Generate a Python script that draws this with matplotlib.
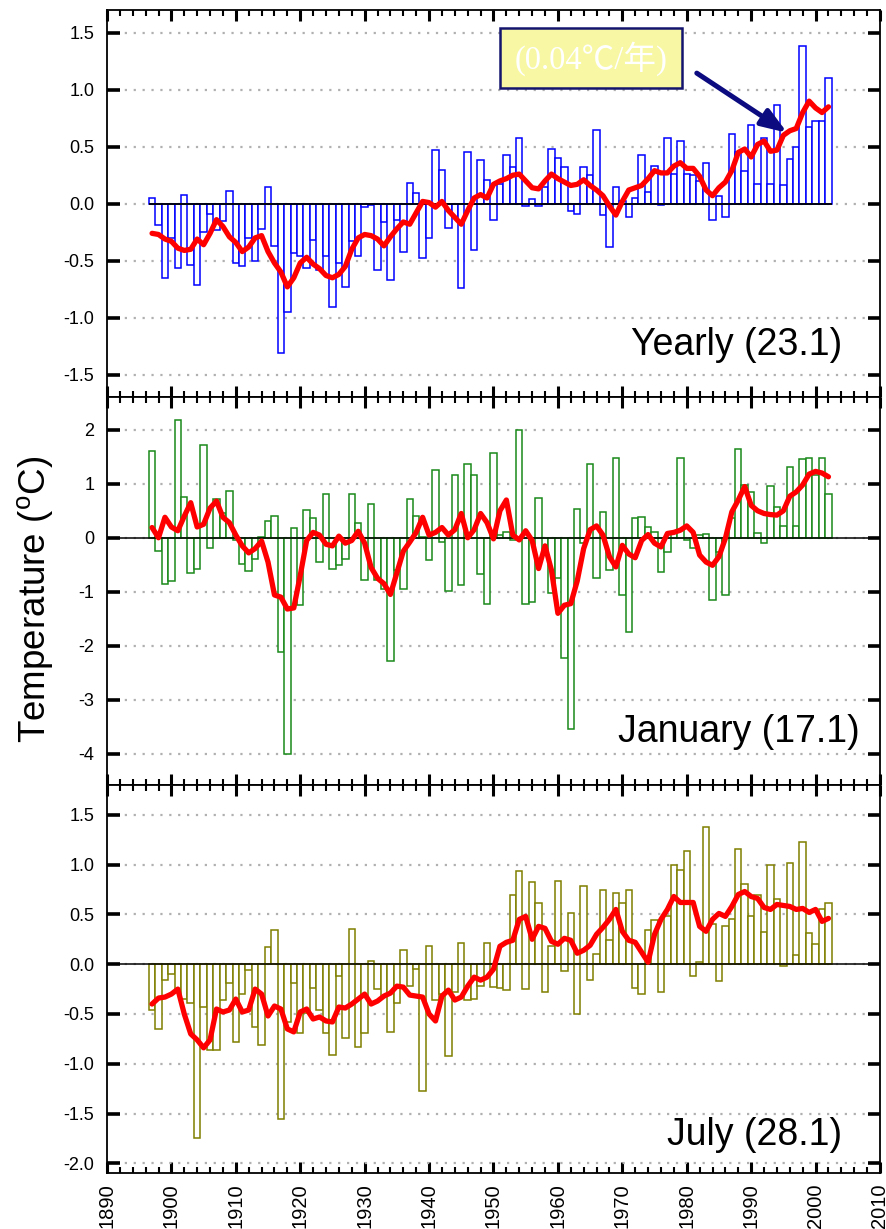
import numpy as np
import matplotlib.pyplot as plt
from matplotlib.patches import Rectangle
from matplotlib.ticker import MultipleLocator, FormatStrFormatter

plt.rcParams['font.family'] = ['Liberation Sans', 'DejaVu Sans']
plt.rcParams['axes.unicode_minus'] = False

# %%
# data, one value per year 1897..2002
years = np.arange(1897, 2003)

yearly_anom = [
    0.05, -0.19, -0.65,
    -0.30, -0.56, 0.08, -0.54, -0.71, -0.25, -0.09, -0.23, -0.15, 0.11,
    -0.52, -0.55, -0.30, -0.50, -0.22, 0.15, -0.37, -1.31, -0.95, -0.43,
    -0.46, -0.56, -0.32, -0.58, -0.46, -0.91, -0.52, -0.73, -0.33, -0.46,
    -0.03, -0.01, -0.58, -0.16, -0.67, -0.14, -0.42, 0.18, 0.09, -0.48,
    -0.30, 0.47, 0.30, -0.21, -0.12, -0.74, 0.45, -0.41, 0.38, 0.21,
    -0.14, 0.17, 0.43, 0.32, 0.58, -0.02, 0.04, -0.02, 0.15, 0.48,
    0.40, 0.32, -0.06, -0.09, 0.32, 0.25, 0.65, -0.10, -0.38, 0.15,
    0.02, -0.12, 0.05, 0.43, 0.10, 0.33, -0.01, 0.58, 0.26, 0.55,
    0.26, 0.25, 0.20, 0.36, -0.14, 0.07, -0.12, 0.61, 0.45, 0.29,
    0.69, 0.17, 0.58, 0.17, 0.87, 0.16, 0.39, 0.50, 1.38, 0.67,
    0.73, 0.73, 1.10,
]
yearly_smooth = [
    -0.26, -0.27, -0.31,
    -0.33, -0.39, -0.41, -0.40, -0.31, -0.36, -0.26, -0.14, -0.20, -0.29,
    -0.34, -0.42, -0.38, -0.30, -0.28, -0.42, -0.52, -0.60, -0.73, -0.65,
    -0.52, -0.47, -0.53, -0.57, -0.63, -0.65, -0.62, -0.55, -0.40, -0.30,
    -0.27, -0.28, -0.31, -0.37, -0.29, -0.22, -0.16, -0.18, -0.08, 0.02,
    0.01, -0.03, 0.02, -0.06, -0.12, -0.18, -0.06, 0.05, 0.08, 0.05,
    0.17, 0.20, 0.22, 0.25, 0.26, 0.20, 0.14, 0.13, 0.20, 0.26,
    0.22, 0.19, 0.16, 0.17, 0.21, 0.16, 0.12, 0.07, -0.02, -0.10,
    0.02, 0.12, 0.14, 0.16, 0.22, 0.29, 0.27, 0.27, 0.33, 0.36,
    0.31, 0.31, 0.24, 0.12, 0.07, 0.14, 0.19, 0.29, 0.45, 0.48,
    0.41, 0.52, 0.55, 0.46, 0.47, 0.60, 0.64, 0.66, 0.80, 0.90,
    0.84, 0.80, 0.85,
]

jan_anom = [
    1.61, -0.24, -0.85,
    -0.81, 2.19, 0.76, -0.65, -0.57, 1.72, -0.19, 0.72, 0.45, 0.87,
    -0.05, -0.48, -0.61, -0.40, 0.02, 0.31, 0.40, -2.12, -4.00, 0.19,
    -1.24, 0.52, 0.37, -0.44, 0.82, -0.57, -0.51, -0.40, 0.82, 0.28,
    -0.78, 0.63, -0.78, -0.95, -2.28, -0.59, -0.95, 0.72, 0.40, 0.02,
    -0.41, 1.25, -0.07, -0.98, 1.16, -0.88, 1.36, 1.16, -0.68, -1.23,
    1.58, 0.05, 0.11, -0.05, 2.00, -1.22, -1.19, 0.73, -0.26, -1.03,
    -0.74, -2.23, -3.54, 0.53, -0.10, 1.37, -0.74, 0.47, -0.60, 1.47,
    -1.06, -1.75, 0.36, 0.38, 0.20, 0.11, -0.63, -0.26, 0.11, 1.47,
    -0.05, -0.19, 0.05, 0.07, -1.16, -0.26, -1.06, 0.36, 1.65, 0.97,
    0.84, 0.08, -0.10, 0.96, 0.57, 0.21, 1.31, 0.22, 1.46, 1.47,
    1.17, 1.47, 0.82,
]
jan_smooth = [
    0.19, 0.00, 0.38,
    0.20, 0.13, 0.40, 0.65, 0.20, 0.25, 0.55, 0.68, 0.38, 0.28,
    0.05, -0.15, -0.28, -0.20, -0.06, -0.45, -1.06, -1.10, -1.32, -1.30,
    -0.70, -0.05, 0.10, 0.05, -0.12, -0.15, 0.03, -0.10, -0.05, 0.12,
    -0.10, -0.55, -0.75, -0.85, -1.05, -0.65, -0.25, -0.08, 0.10, 0.38,
    0.05, 0.10, 0.19, 0.05, 0.15, 0.45, 0.00, 0.15, 0.45, 0.28,
    -0.02, 0.50, 0.70, 0.05, -0.04, 0.13, -0.05, -0.57, -0.15, -0.60,
    -1.40, -1.25, -1.22, -0.80, -0.20, 0.15, 0.22, 0.05, -0.35, -0.54,
    -0.14, -0.30, -0.37, -0.05, 0.06, -0.10, -0.17, 0.08, 0.10, 0.14,
    0.22, 0.10, -0.32, -0.45, -0.51, -0.35, -0.01, 0.48, 0.70, 0.95,
    0.60, 0.50, 0.45, 0.43, 0.42, 0.50, 0.77, 0.85, 0.98, 1.18,
    1.23, 1.20, 1.13,
]

jul_anom = [
    -0.46, -0.65, -0.16,
    -0.10, -0.26, -0.35, -0.39, -1.75, -0.43, -0.86, -0.86, -0.36, -0.19,
    -0.78, -0.30, -0.06, -0.63, -0.81, 0.17, 0.34, -1.55, -0.58, -0.19,
    -0.69, -0.49, -0.24, -0.46, -0.69, -0.91, -0.12, -0.74, 0.35, -0.83,
    -0.69, 0.03, -0.25, -0.32, -0.68, -0.39, 0.14, -0.22, -0.05, -1.27,
    0.18, -0.36, -0.30, -0.92, -0.28, 0.21, -0.36, -0.35, -0.22, 0.21,
    -0.23, -0.24, -0.26, 0.70, 0.94, -0.25, 0.83, 0.61, -0.28, 0.18,
    0.84, -0.07, 0.51, -0.50, 0.79, -0.16, 0.10, 0.75, 0.24, 0.72,
    0.61, 0.75, -0.24, -0.30, 0.34, 0.44, -0.28, 0.48, 1.00, 0.95,
    1.14, -0.12, 0.02, 1.38, 0.40, -0.17, 0.38, 0.45, 1.16, 0.81,
    0.48, 0.70, 0.32, 1.00, 0.65, -0.02, 1.02, 0.09, 1.23, 0.31,
    0.20, 0.55, 0.61,
]
jul_smooth = [
    -0.40, -0.34, -0.33,
    -0.30, -0.25, -0.50, -0.70, -0.76, -0.84, -0.76, -0.45, -0.48, -0.46,
    -0.35, -0.48, -0.46, -0.25, -0.30, -0.52, -0.42, -0.45, -0.65, -0.68,
    -0.48, -0.45, -0.55, -0.53, -0.57, -0.58, -0.43, -0.44, -0.40, -0.35,
    -0.30, -0.40, -0.37, -0.32, -0.29, -0.22, -0.23, -0.31, -0.32, -0.33,
    -0.50, -0.57, -0.32, -0.26, -0.36, -0.33, -0.22, -0.13, -0.16, -0.13,
    -0.05, 0.18, 0.22, 0.24, 0.45, 0.48, 0.25, 0.38, 0.36, 0.23,
    0.20, 0.26, 0.24, 0.11, 0.14, 0.19, 0.30, 0.37, 0.45, 0.55,
    0.33, 0.24, 0.22, 0.12, 0.02, 0.30, 0.45, 0.55, 0.68, 0.62,
    0.62, 0.62, 0.38, 0.33, 0.45, 0.51, 0.48, 0.58, 0.70, 0.73,
    0.68, 0.66, 0.57, 0.55, 0.60, 0.59, 0.58, 0.55, 0.56, 0.52,
    0.55, 0.43, 0.46,
]

panel_labels = ['Yearly (23.1)', 'January (17.1)', 'July (28.1)']
trend_text = '(0.04\u2103/\u5e74)'

# %%
fig = plt.figure(figsize=(8.87, 12.29), dpi=100)

# axes boxes in figure fractions (left, bottom, width, height)
boxes = [
    (0.1206, 0.6766, 0.8715, 0.3153),
    (0.1206, 0.3613, 0.8715, 0.3153),
    (0.1206, 0.0453, 0.8715, 0.3160),
]
settings = [
    # data, smooth, colour, ylim, ystep, fmt, label pos, zero line to right edge
    (yearly_anom, yearly_smooth, '#0000ff', (-1.7, 1.7), 0.5, '%.1f', (0.951, 0.110), False),
    (jan_anom, jan_smooth, '#1a8a1a', (-4.58, 2.6), 1.0, '%d', (0.974, 0.112), True),
    (jul_anom, jul_smooth, '#7f7f00', (-2.1, 1.8), 0.5, '%.1f', (0.951, 0.073), True),
]

axes = []
for i, (box, (anom, smooth, col, ylim, ystep, fmt, lpos, full_zero)) in enumerate(zip(boxes, settings)):
    ax = fig.add_axes(box)
    axes.append(ax)

    ax.bar(years, anom, width=1.0, facecolor='white', edgecolor=col,
           linewidth=1.1, zorder=2)
    if full_zero:
        ax.axhline(0, color='black', lw=1.1, zorder=3)
    else:
        ax.hlines(0, years[0] - 0.5, years[-1] + 0.5, color='black', lw=1.3, zorder=3)
    ax.plot(years, smooth, color='#ff0000', lw=3.8, zorder=4,
            solid_joinstyle='round', solid_capstyle='round')

    ax.set_xlim(1890, 2010)
    ax.set_ylim(*ylim)
    ax.yaxis.set_major_locator(MultipleLocator(ystep))
    ax.yaxis.set_major_formatter(FormatStrFormatter(fmt))
    ax.xaxis.set_major_locator(MultipleLocator(10))
    ax.xaxis.set_minor_locator(MultipleLocator(2))

    ax.yaxis.grid(True, linestyle=(0, (1, 3)), color='#b0b0b0', lw=1.6)
    ax.set_axisbelow(True)

    ax.tick_params(axis='both', which='both', direction='in', top=True, right=True)
    ax.tick_params(axis='x', which='major', length=8, width=2.2)
    ax.tick_params(axis='x', which='minor', length=4.5, width=1.5)
    ax.tick_params(axis='y', which='major', length=9, width=2.6, labelsize=13, pad=9)
    for s in ax.spines.values():
        s.set_linewidth(1.3)

    if i < 2:
        ax.tick_params(axis='x', labelbottom=False)
    else:
        ax.tick_params(axis='x', which='major', labelsize=14.5, labelrotation=90, pad=7)

    ax.text(lpos[0], lpos[1], panel_labels[i], transform=ax.transAxes,
            ha='right', va='baseline', fontsize=27)

# trend annotation on the yearly panel
ax1 = axes[0]
ax1.add_patch(Rectangle((0.509, 0.798), 0.235, 0.155, transform=ax1.transAxes,
                        facecolor='#f8f8a4', edgecolor='#14146e', lw=1.8, zorder=5))
ax1.text(0.6265, 0.874, trend_text, transform=ax1.transAxes, ha='center', va='center',
         color='white', fontsize=23.5, zorder=6,
         family=['Liberation Serif', 'Noto Sans CJK SC'])
ax1.annotate('', xy=(0.880, 0.683), xytext=(0.763, 0.837), xycoords='axes fraction',
             arrowprops=dict(arrowstyle='-|>,head_length=1.1,head_width=0.4',
                             mutation_scale=14, lw=3.6, color='#0c0c80',
                             shrinkA=0, shrinkB=0), zorder=6)

fig.text(0.040, 0.512, 'Temperature ($\\mathregular{^{o}}$C)', rotation=90,
         ha='center', va='center', fontsize=26.5)

plt.savefig('out.png', dpi=100)
